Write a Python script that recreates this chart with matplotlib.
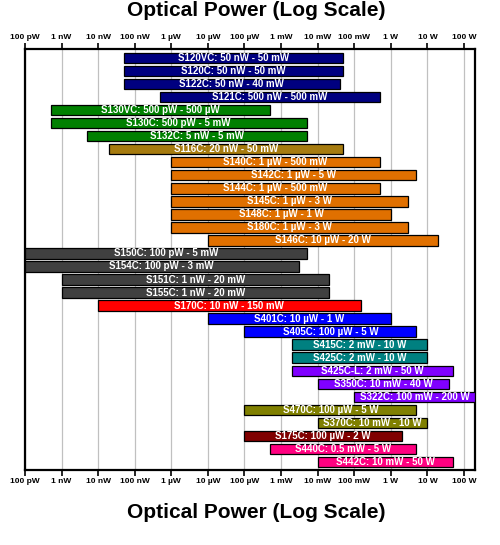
import matplotlib
matplotlib.use("Agg")
import matplotlib.pyplot as plt
import numpy as np

plt.rcParams['font.family'] = ['Liberation Sans', 'DejaVu Sans']

# sensör adları, alt/üst güç sınırları (W), etiketler ve renkler
sensorler = ["S120VC", "S120C", "S122C", "S121C", "S130VC", "S130C", "S132C", "S116C",
             "S140C", "S142C", "S144C", "S145C", "S148C", "S180C", "S146C",
             "S150C", "S154C", "S151C", "S155C", "S170C", "S401C", "S405C",
             "S415C", "S425C", "S425C-L", "S350C", "S322C", "S470C", "S370C",
             "S175C", "S440C", "S442C"]
alt_guc = [50e-9, 50e-9, 50e-9, 500e-9, 500e-12, 500e-12, 5e-9, 20e-9,
           1e-6, 1e-6, 1e-6, 1e-6, 1e-6, 1e-6, 10e-6,
           100e-12, 100e-12, 1e-9, 1e-9, 10e-9, 10e-6, 100e-6,
           2e-3, 2e-3, 2e-3, 10e-3, 100e-3, 100e-6, 10e-3,
           100e-6, 0.5e-3, 10e-3]
ust_guc = [50e-3, 50e-3, 40e-3, 500e-3, 500e-6, 5e-3, 5e-3, 50e-3,
           500e-3, 5, 500e-3, 3, 1, 3, 20,
           5e-3, 3e-3, 20e-3, 20e-3, 150e-3, 1, 5,
           10, 10, 50, 40, 200, 5, 10,
           2, 5, 50]
aralik = ["50 nW - 50 mW", "50 nW - 50 mW", "50 nW - 40 mW", "500 nW - 500 mW",
          "500 pW - 500 µW", "500 pW - 5 mW", "5 nW - 5 mW", "20 nW - 50 mW",
          "1 µW - 500 mW", "1 µW - 5 W", "1 µW - 500 mW", "1 µW - 3 W",
          "1 µW - 1 W", "1 µW - 3 W", "10 µW - 20 W",
          "100 pW - 5 mW", "100 pW - 3 mW", "1 nW - 20 mW", "1 nW - 20 mW",
          "10 nW - 150 mW", "10 µW - 1 W", "100 µW - 5 W",
          "2 mW - 10 W", "2 mW - 10 W", "2 mW - 50 W", "10 mW - 40 W",
          "100 mW - 200 W", "100 µW - 5 W", "10 mW - 10 W",
          "100 µW - 2 W", "0.5 mW - 5 W", "10 mW - 50 W"]
renkler = ["#000080"] * 4 + ["#008000"] * 3 + ["#A67B0F"] + ["#E07000"] * 7 + \
          ["#404040"] * 4 + ["#FF0000"] + ["#0000FF"] * 2 + ["#008080"] * 2 + \
          ["#8000FF"] * 3 + ["#808000"] * 2 + ["#800000"] + ["#FF0080"] * 2

tik_degerleri = [1e-10, 1e-9, 1e-8, 1e-7, 1e-6, 1e-5, 1e-4, 1e-3, 1e-2, 1e-1, 1, 10, 100]
tik_etiketleri = ["100 pW", "1 nW", "10 nW", "100 nW", "1 µW", "10 µW", "100 µW",
                  "1 mW", "10 mW", "100 mW", "1 W", "10 W", "100 W"]

fig = plt.figure(figsize=(5, 5.45), dpi=100)
ax = fig.add_axes([0.05, 0.1376, 0.90, 0.7725])

y = np.arange(len(sensorler))
genislik = np.array(ust_guc) - np.array(alt_guc)
ax.barh(y, genislik, left=alt_guc, height=0.8, color=renkler,
        edgecolor="black", linewidth=0.9, zorder=3)

# etiketleri çubukların (log) ortasına yaz
for i in range(len(sensorler)):
    orta = np.sqrt(alt_guc[i] * ust_guc[i])
    ax.text(orta, y[i], f"{sensorler[i]}: {aralik[i]}", ha="center", va="center",
            color="white", fontsize=7, fontweight="bold", zorder=4)

ax.set_xscale("log")
ax.set_xlim(1e-10, 200)
ax.set_ylim(len(sensorler) - 1 + 0.62, -0.69)
ax.set_yticks([])
ax.set_xticks(tik_degerleri)
ax.set_xticklabels(tik_etiketleri)
ax.minorticks_off()
ax.tick_params(axis="x", which="major", top=True, labeltop=True, bottom=True,
               labelbottom=True, direction="out", length=4, width=1.2,
               pad=2, labelsize=6)
for lbl in ax.get_xticklabels():
    lbl.set_fontweight("bold")
ax.grid(True, axis="x", color="#c0c0c0", linewidth=0.9, zorder=0)
for s in ax.spines.values():
    s.set_linewidth(1.6)

fig.text(0.513, 1 - 11 / 545, "Optical Power (Log Scale)", ha="center", va="center",
         fontsize=15, fontweight="bold")
fig.text(0.513, 1 - 513 / 545, "Optical Power (Log Scale)", ha="center", va="center",
         fontsize=15, fontweight="bold")

fig.savefig("out.png", dpi=100)
